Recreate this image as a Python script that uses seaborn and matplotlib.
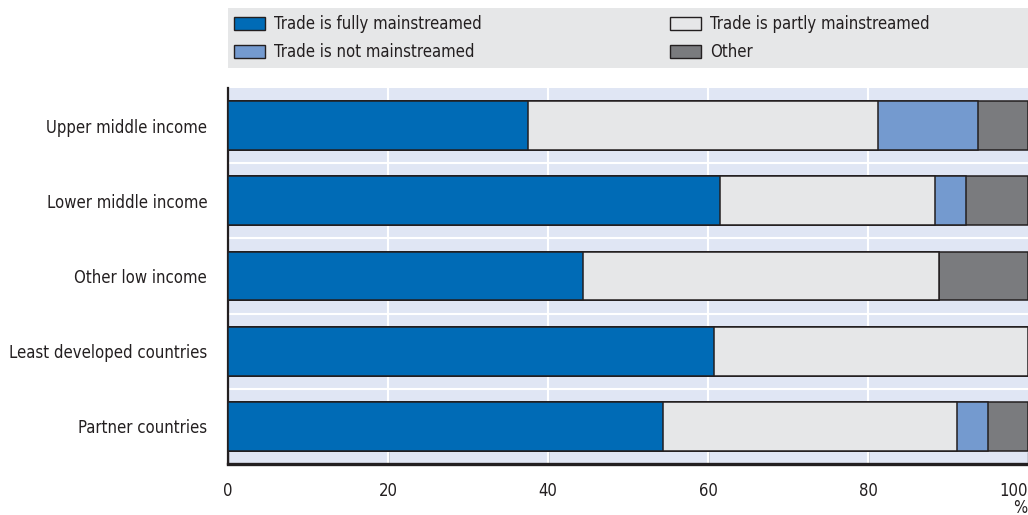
import numpy as np
import pandas as pd
import matplotlib.pyplot as plt
import matplotlib.patches as mpatches
import seaborn as sns

# ---------------------------------------------------------------------------
# Data (% of countries)
# ---------------------------------------------------------------------------
groups = [
    "Upper middle income",
    "Lower middle income",
    "Other low income",
    "Least developed countries",
    "Partner countries",
]
fully = [37.5, 61.5, 44.4, 60.7, 54.4]
partly = [43.75, 26.9, 44.5, 39.3, 36.7]
not_main = [12.5, 3.9, 0.0, 0.0, 3.9]
other = [6.25, 7.7, 11.1, 0.0, 5.0]

series_names = [
    "Trade is fully mainstreamed",
    "Trade is partly mainstreamed",
    "Trade is not mainstreamed",
    "Other",
]
series_colors = ["#006BB6", "#E6E7E8", "#749ACF", "#7A7B7E"]

df = pd.DataFrame({
    "group": groups,
    series_names[0]: fully,
    series_names[1]: partly,
    series_names[2]: not_main,
    series_names[3]: other,
})

# cumulative ends for layered bars
cum = df[series_names].cumsum(axis=1)

# ---------------------------------------------------------------------------
# Style
# ---------------------------------------------------------------------------
sns.set_style("white")
plt.rcParams["font.family"] = ["DejaVu Sans"]
plt.rcParams["font.stretch"] = "condensed"
text_color = "#231F20"
edge_color = "#231F20"
fs = 12

fig = plt.figure(figsize=(10.28, 5.15), dpi=100)
ax = fig.add_axes([228 / 1028, 1 - 464 / 515, 800 / 1028, (464 - 88) / 515])
ax.set_facecolor("#E0E6F4")

# draw back-to-front so each segment's right edge is visible
for name, color in reversed(list(zip(series_names, series_colors))):
    sns.barplot(
        x=cum[name], y=df["group"], order=groups, orient="h",
        color=color, width=0.65, edgecolor=edge_color, linewidth=1.1,
        saturation=1, ax=ax, zorder=3,
    )

ax.set_xlim(0, 100)
ax.set_ylim(4.5, -0.5)
ax.set_xlabel("")
ax.set_ylabel("")

# grid: white verticals at x ticks, white horizontals between categories
ax.set_xticks([0, 20, 40, 60, 80, 100])
ax.set_yticks(np.arange(0.5, 4.5, 1), minor=True)
for x in [20, 40, 60, 80]:
    ax.axvline(x, color="white", linewidth=1.5, zorder=1)
for y in np.arange(0.5, 4.5, 1):
    ax.axhline(y, color="white", linewidth=1.5, zorder=1)

ax.tick_params(axis="y", which="major", length=0, pad=15, labelsize=fs, labelcolor=text_color)
ax.tick_params(axis="y", which="minor", direction="in", length=7, width=1.2, color=text_color, left=True)
ax.tick_params(axis="x", which="major", direction="in", length=9, width=1, color="#555555",
               pad=13, labelsize=fs, labelcolor=text_color, bottom=True)
labels = ax.get_xticklabels()
labels[-1].set_horizontalalignment("right")

for side in ["top", "right"]:
    ax.spines[side].set_visible(False)
ax.spines["left"].set_color(edge_color)
ax.spines["left"].set_linewidth(1.6)
ax.spines["bottom"].set_color(edge_color)
ax.spines["bottom"].set_linewidth(2.4)

fig.text(1027 / 1028, 1 - 508 / 515, "%", ha="right", va="center", fontsize=fs, color=text_color)

# ---------------------------------------------------------------------------
# Legend on grey band
# ---------------------------------------------------------------------------
fig.patches.append(mpatches.Rectangle(
    (228 / 1028, 1 - 68 / 515), 800 / 1028, 60 / 515,
    transform=fig.transFigure, facecolor="#E6E7E8", edgecolor="none", zorder=0,
))
handles = [
    mpatches.Patch(facecolor=c, edgecolor=edge_color, linewidth=1.0, label=n)
    for n, c in zip(series_names, series_colors)
]
order = [0, 2, 1, 3]
fig.legend(
    [handles[i] for i in order], [series_names[i] for i in order],
    ncol=2, loc="center left", bbox_to_anchor=(227 / 1028, 1 - 38 / 515),
    frameon=False, fontsize=fs, handlelength=1.9, handleheight=0.8,
    handletextpad=0.5, columnspacing=11.3, labelspacing=0.6,
    labelcolor=text_color, borderaxespad=0,
)

fig.savefig("out.png", dpi=100)
plt.close(fig)
